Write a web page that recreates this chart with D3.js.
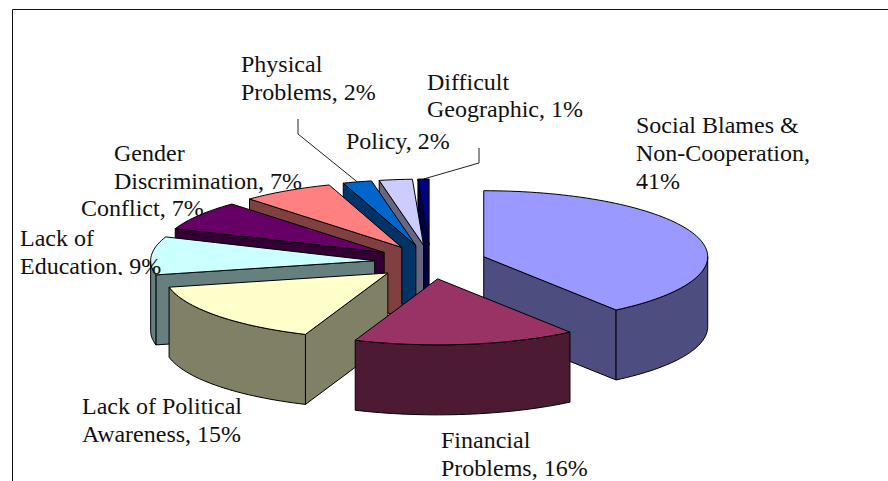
<!DOCTYPE html>
<html>
<head>
<meta charset="utf-8">
<script src="https://cdn.jsdelivr.net/npm/d3@7"></script>
<style>
html,body{margin:0;padding:0;background:#fff;overflow:hidden}
svg{display:block}
text{font-family:"Liberation Serif","Times New Roman",serif;font-size:24px;fill:#111}
</style>
</head>
<body>
<div id="chart"></div>
<script>
// Slice shares
const categories = ["Social Blames & Non-Cooperation","Financial Problems","Lack of Political Awareness","Lack of Education","Conflict","Gender Discrimination","Physical Problems","Policy","Difficult Geographic"];
const sliceShares = [40.3,16.2,15.7,9.4,7.3,6.7,2.1,2.4,0.8];
const labelPercents = [41,16,15,9,7,7,2,2,1];
const topColors = ["#9999FF","#993366","#FFFFCC","#CCFFFF","#660066","#FF8080","#0066CC","#CCCCFF","#000080"];
const wallColors = ["#4D4D80","#4D1A33","#808066","#668080","#330033","#804040","#003366","#666680","#000040"];
const labelLines = [
  ["Social Blames &","Non-Cooperation,","41%"],
  ["Financial","Problems, 16%"],
  ["Lack of Political","Awareness, 15%"],
  ["Lack of","Education, 9%"],
  ["Conflict, 7%"],
  ["Gender","Discrimination, 7%"],
  ["Physical","Problems, 2%"],
  ["Policy, 2%"],
  ["Difficult","Geographic, 1%"]
];
const labelX = [636,441,82,20,81,114,241,346,427];
const labelY = [133,448,414,246,216,161,72,149,90];
const lineStep = [28,28,27.5,28,28,28,28,28,27];
// order in which the exploded wedges are painted, back to front
const paintOrder = [8,7,6,5,4,3,2,0,1];

const W = 888, H = 481;
const cx = 430.5, cy = 262, rx = 224, ry = 66, depth = 70, explodeX = 56, explodeY = 17;

const svg = d3.select("#chart").append("svg").attr("width",W).attr("height",H);
svg.append("path").attr("d",`M${W},9.5H12.5V${H}`).attr("fill","none").attr("stroke","#111").attr("stroke-width",1);
// the "Education" label is cut off by its text box in the source
svg.append("clipPath").attr("id","eduClip").append("rect").attr("x",0).attr("y",0).attr("width",W).attr("height",275);

const pie = d3.pie().sort(null).value(d=>d)(sliceShares);
const slices = pie.map((p,i)=>{
  const mid = (p.startAngle+p.endAngle)/2;
  return {i, a:p.startAngle, b:p.endAngle,
    ox: cx + explodeX*Math.sin(mid),
    oy: cy - explodeY*Math.cos(mid), mid};
});
const rim = (s,t)=>[s.ox+rx*Math.sin(t), s.oy-ry*Math.cos(t)];
const arcPts = (s,a,b)=>{
  const n = Math.max(2,Math.ceil((b-a)/0.03));
  return d3.range(n+1).map(k=>rim(s,a+(b-a)*k/n));
};
const line = d3.line();
const drop = pts=>pts.map(p=>[p[0],p[1]+depth]);

// leader lines for the two narrow wedges
const leader = svg.append("g").attr("fill","none").attr("stroke","#222").attr("stroke-width",1);
const pPhys = rim(slices[6],slices[6].mid), pGeo = rim(slices[8],slices[8].mid);
leader.append("path").attr("d",line([[298,119],[298,134],pPhys]));
leader.append("path").attr("d",line([[479,148],[479,163],pGeo]));

const g = svg.append("g").attr("stroke","#000").attr("stroke-width",1).attr("stroke-linejoin","round");
paintOrder.forEach(idx=>{
  const s = slices[idx], apex=[s.ox,s.oy];
  const wall = wallColors[idx];
  const face = (pts)=>g.append("path").attr("d",line(pts)+"Z").attr("fill",wall);
  if (Math.sin(s.a) < -1e-6) {
    const e = rim(s,s.a); face([apex,e,[e[0],e[1]+depth],[apex[0],apex[1]+depth]]);
  }
  if (Math.sin(s.b) > 1e-6) {
    const e = rim(s,s.b); face([apex,e,[e[0],e[1]+depth],[apex[0],apex[1]+depth]]);
  }
  const a0 = Math.max(s.a,Math.PI/2), b0 = Math.min(s.b,Math.PI*1.5);
  if (b0 > a0) {
    const pts = arcPts(s,a0,b0);
    face(pts.concat(drop(pts).reverse()));
  }
  g.append("path").attr("d",line([apex].concat(arcPts(s,s.a,s.b)))+"Z").attr("fill",topColors[idx]);
});

// labels are painted over the pie
const lab = svg.append("g");
labelLines.forEach((ls,i)=>{
  const block = lab.append("g");
  if (i === 3) block.attr("clip-path","url(#eduClip)");
  ls.forEach((t,k)=>block.append("text").attr("x",labelX[i]).attr("y",labelY[i]+k*lineStep[i]).text(t));
});
</script>
</body>
</html>
